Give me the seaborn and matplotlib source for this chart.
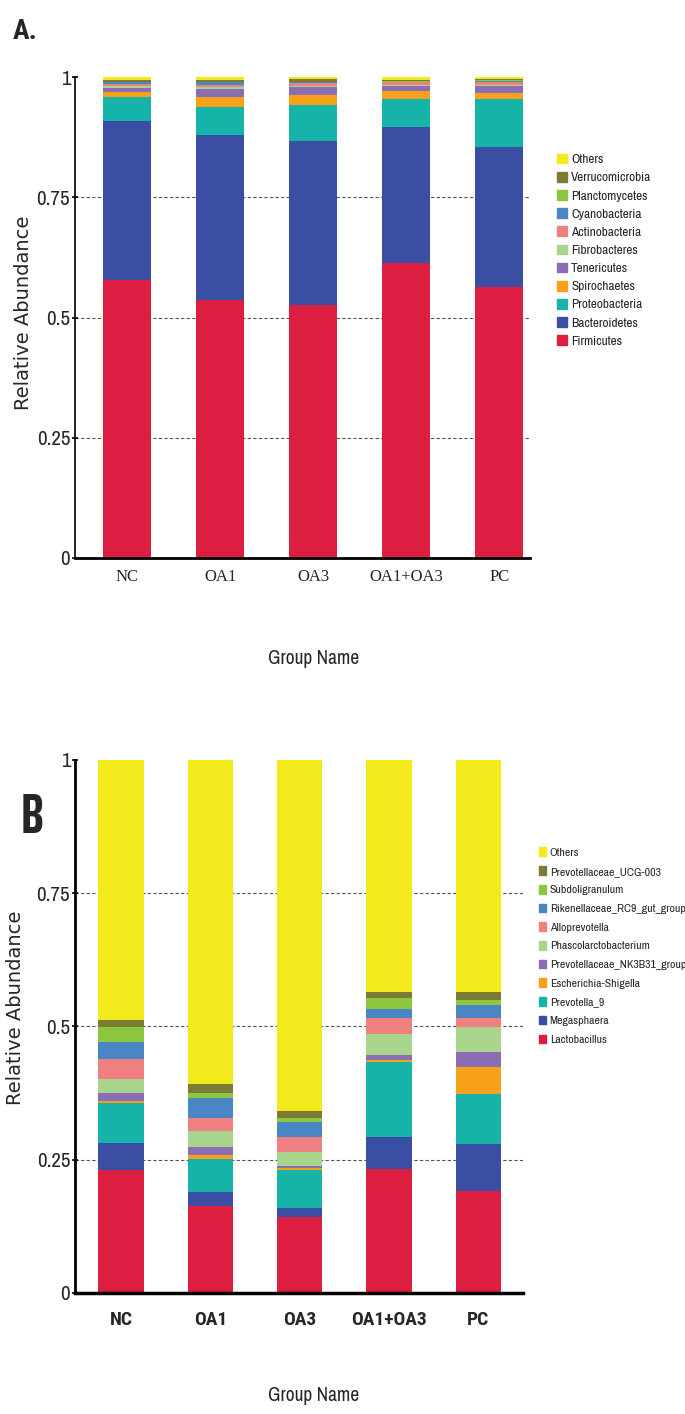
import numpy as np
import pandas as pd
import matplotlib
matplotlib.use("Agg")
import matplotlib.pyplot as plt
import seaborn as sns
from matplotlib.patches import Patch

# groups
groups = ["NC", "OA1", "OA3", "OA1+OA3", "PC"]

# panel A - phylum level (bottom -> top)
phyla = ["Firmicutes", "Bacteroidetes", "Proteobacteria", "Spirochaetes", "Tenericutes",
         "Fibrobacteres", "Actinobacteria", "Cyanobacteria", "Planctomycetes",
         "Verrucomicrobia", "Others"]
firmicutes = [0.578, 0.536, 0.526, 0.613, 0.563]
bacteroidetes = [0.330, 0.343, 0.341, 0.283, 0.291]
proteobacteria = [0.051, 0.059, 0.076, 0.059, 0.100]
spirochaetes = [0.011, 0.021, 0.020, 0.016, 0.013]
tenericutes = [0.008, 0.017, 0.017, 0.010, 0.014]
fibrobacteres = [0.003, 0.003, 0.002, 0.002, 0.003]
actinobacteria = [0.004, 0.005, 0.006, 0.006, 0.007]
cyanobacteria = [0.004, 0.005, 0.001, 0.002, 0.002]
planctomycetes = [0.002, 0.002, 0.001, 0.001, 0.001]
verrucomicrobia = [0.003, 0.003, 0.006, 0.002, 0.002]
others_a = [0.006, 0.006, 0.004, 0.006, 0.004]

# panel B - genus level (bottom -> top)
genera = ["Lactobacillus", "Megasphaera", "Prevotella_9", "Escherichia-Shigella",
          "Prevotellaceae_NK3B31_group", "Phascolarctobacterium", "Alloprevotella",
          "Rikenellaceae_RC9_gut_group", "Subdoligranulum", "Prevotellaceae_UCG-003", "Others"]
lactobacillus = [0.231, 0.164, 0.142, 0.232, 0.191]
megasphaera = [0.051, 0.025, 0.017, 0.060, 0.089]
prevotella_9 = [0.075, 0.062, 0.072, 0.142, 0.093]
escherichia = [0.003, 0.008, 0.004, 0.003, 0.051]
nk3b31 = [0.015, 0.014, 0.004, 0.010, 0.028]
phascolarcto = [0.027, 0.031, 0.026, 0.039, 0.047]
alloprevotella = [0.037, 0.024, 0.028, 0.029, 0.017]
rikenellaceae = [0.031, 0.038, 0.028, 0.018, 0.024]
subdoligranulum = [0.028, 0.010, 0.008, 0.020, 0.009]
ucg003 = [0.014, 0.016, 0.013, 0.012, 0.016]
others_b = [0.488, 0.608, 0.658, 0.435, 0.435]

colors = ["#DC1E40", "#3A4FA3", "#16B3A9", "#F7A11A", "#8A6DB3", "#A8D48C",
          "#F08080", "#4A86C6", "#8DC63F", "#7D7A35", "#F2EA1A"]

sns.set_theme(style="white")
plt.rcParams["font.family"] = ["DejaVu Sans"]

# narrow fonts, with fallbacks
narrow = ["Archivo Narrow", "Roboto", "DejaVu Sans"]
narrow_bold = ["Roboto Condensed", "Roboto", "DejaVu Sans"]
title_font = ["Saira ExtraCondensed", "Roboto", "DejaVu Sans"]


def long_table(names, series):
    rows = []
    for name, vals in zip(names, series):
        for g, v in zip(groups, vals):
            rows.append({"group": g, "taxon": name, "value": v})
    df = pd.DataFrame(rows)
    df["taxon"] = pd.Categorical(df["taxon"], categories=names, ordered=True)
    df = df.sort_values(["group", "taxon"])
    df["cum"] = df.groupby("group", sort=False)["value"].cumsum()
    return df


def stacked(ax, df, names, width):
    # draw tallest cumulative first so the lower layers cover it
    for name, c in list(zip(names, colors))[::-1]:
        sub = df[df["taxon"] == name]
        sns.barplot(data=sub, x="group", y="cum", order=groups, color=c,
                    saturation=1, width=width, linewidth=0, errorbar=None, ax=ax, zorder=2)
    for yv in [0.25, 0.5, 0.75]:
        ax.axhline(yv, color="#555555", lw=0.8, ls=(0, (3, 2)), zorder=0)
    ax.set_ylim(0, 1)
    ax.set_yticks([0, 0.25, 0.5, 0.75, 1])
    ax.set_yticklabels(["0", "0.25", "0.5", "0.75", "1"])
    ax.set_xticks(np.arange(0.5, 5, 1), minor=True)
    ax.tick_params(axis="x", which="major", length=0, pad=8)
    ax.tick_params(axis="x", which="minor", length=4, width=1.2, color="black", direction="out")
    ax.tick_params(axis="y", length=5, width=1.2, color="black", direction="inout", left=True, pad=1)
    for s in ["top", "right"]:
        ax.spines[s].set_visible(False)
    ax.spines["left"].set_color("black")
    ax.spines["bottom"].set_color("black")
    handles = [Patch(color=c, label=n) for n, c in zip(names, colors)][::-1]
    return handles


fig = plt.figure(figsize=(6.85, 14.14), dpi=100)

# ---------- panel A ----------
axA = fig.add_axes([0.1095, 0.6054, 0.664, 0.340])
dfA = long_table(phyla, [firmicutes, bacteroidetes, proteobacteria, spirochaetes, tenericutes,
                         fibrobacteres, actinobacteria, cyanobacteria, planctomycetes,
                         verrucomicrobia, others_a])
hA = stacked(axA, dfA, phyla, 0.52)
axA.set_xlim(-0.56, 4.33)
axA.spines["left"].set_linewidth(1.2)
axA.spines["bottom"].set_linewidth(2)
for t in axA.get_xticklabels():
    t.set_fontfamily("Liberation Serif")
    t.set_fontsize(12)
for t in axA.get_yticklabels():
    t.set_fontfamily(narrow)
    t.set_fontsize(15)
axA.set_xlabel("Group Name", fontsize=14, family=narrow)
axA.xaxis.set_label_coords(0.525, -0.19)
axA.set_ylabel("Relative Abundance", fontsize=14)
axA.yaxis.set_label_coords(-0.092, 0.51)
fig.legend(handles=hA, loc="upper left", bbox_to_anchor=(0.805, 0.895), frameon=False,
           prop={"family": narrow, "size": 9.5}, handlelength=0.75, handleheight=0.75,
           handletextpad=0.35, labelspacing=0.51, borderaxespad=0)
fig.text(0.018, 0.987, "A.", fontsize=20, fontweight="bold", family=narrow_bold, va="top")

# ---------- panel B ----------
axB = fig.add_axes([0.1095, 0.0856, 0.654, 0.377])
dfB = long_table(genera, [lactobacillus, megasphaera, prevotella_9, escherichia, nk3b31,
                          phascolarcto, alloprevotella, rikenellaceae, subdoligranulum,
                          ucg003, others_b])
hB = stacked(axB, dfB, genera, 0.51)
axB.set_xlim(-0.515, 4.5)
axB.spines["left"].set_linewidth(2)
axB.spines["bottom"].set_linewidth(2.5)
for t in axB.get_xticklabels():
    t.set_fontfamily(narrow_bold)
    t.set_fontsize(14)
    t.set_fontweight("bold")
axB.tick_params(axis="x", which="major", pad=13)
for t in axB.get_yticklabels():
    t.set_fontfamily(narrow)
    t.set_fontsize(15)
axB.set_xlabel("Group Name", fontsize=14, family=narrow)
axB.xaxis.set_label_coords(0.533, -0.175)
axB.set_ylabel("Relative Abundance", fontsize=14)
axB.yaxis.set_label_coords(-0.112, 0.535)
fig.legend(handles=hB, loc="upper left", bbox_to_anchor=(0.78, 0.404), frameon=False,
           prop={"family": narrow, "size": 8.5}, handlelength=0.6, handleheight=0.75,
           handletextpad=0.3, labelspacing=0.7, borderaxespad=0)
fig.text(0.03, 0.4215, "B", fontsize=40, fontweight="bold", family=title_font, va="center")

fig.savefig("out.png", dpi=100)
